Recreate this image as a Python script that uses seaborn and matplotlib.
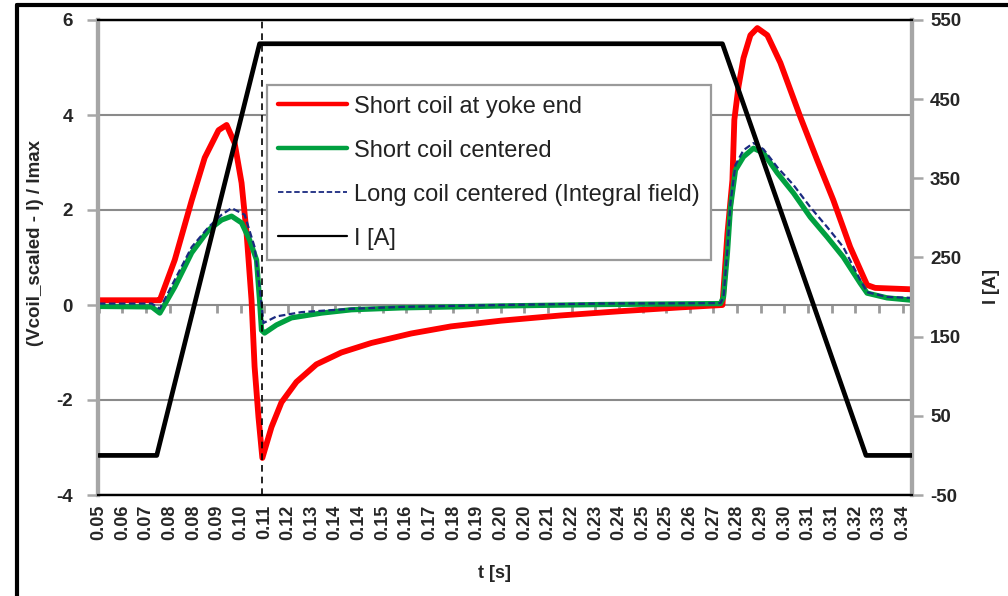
import numpy as np
import matplotlib
matplotlib.use("Agg")
import matplotlib.pyplot as plt
import seaborn as sns
from matplotlib.lines import Line2D

# ---------------- data ----------------
tick_labels = ["0.05", "0.06", "0.07", "0.08", "0.08", "0.09", "0.10", "0.11", "0.12", "0.13",
               "0.14", "0.14", "0.15", "0.16", "0.17", "0.18", "0.19", "0.20", "0.20", "0.21",
               "0.22", "0.23", "0.24", "0.25", "0.25", "0.26", "0.27", "0.28", "0.29", "0.30",
               "0.31", "0.31", "0.32", "0.33", "0.34"]
tick_first, tick_last = 0.05, 0.34

t_red = [0.0500, 0.0709, 0.0720, 0.0774, 0.0835, 0.0882, 0.0932, 0.0961, 0.0990, 0.1015,
         0.1033, 0.1051, 0.1062, 0.1076, 0.1090, 0.1123, 0.1159, 0.1213, 0.1285, 0.1375,
         0.1483, 0.1627, 0.1771, 0.1951, 0.2167, 0.2383, 0.2599, 0.2750, 0.2768, 0.2786,
         0.2793, 0.2808, 0.2826, 0.2851, 0.2876, 0.2912, 0.2959, 0.3031, 0.3092, 0.3150,
         0.3211, 0.3272, 0.3301, 0.3434]
v_red = [0.10, 0.10, 0.10, 0.95, 2.20, 3.10, 3.68, 3.79, 3.41, 2.57,
         1.52, 0.10, -1.30, -2.36, -3.22, -2.57, -2.05, -1.62, -1.25, -1.00,
         -0.80, -0.60, -0.45, -0.33, -0.22, -0.13, -0.05, 0.00, 1.50, 2.63,
         3.90, 4.60, 5.20, 5.68, 5.83, 5.68, 5.10, 3.96, 3.05, 2.21,
         1.22, 0.42, 0.36, 0.33]

t_green = [0.0500, 0.0691, 0.0720, 0.0774, 0.0835, 0.0896, 0.0943, 0.0979, 0.1015, 0.1044,
           0.1069, 0.1080, 0.1087, 0.1098, 0.1141, 0.1195, 0.1303, 0.1411, 0.1591, 0.1771,
           0.1951, 0.2311, 0.2743, 0.2754, 0.2768, 0.2779, 0.2797, 0.2826, 0.2862, 0.2898,
           0.2948, 0.3006, 0.3067, 0.3128, 0.3186, 0.3247, 0.3272, 0.3344, 0.3434]
v_green = [-0.03, -0.04, -0.17, 0.38, 1.10, 1.58, 1.79, 1.87, 1.73, 1.37,
           0.95, 0.10, -0.53, -0.59, -0.42, -0.27, -0.17, -0.10, -0.06, -0.04,
           -0.02, 0.01, 0.03, 0.17, 1.10, 2.06, 2.84, 3.12, 3.30, 3.20,
           2.78, 2.36, 1.85, 1.43, 1.01, 0.46, 0.25, 0.15, 0.10]

t_blue = [0.0500, 0.0691, 0.0720, 0.0774, 0.0835, 0.0896, 0.0943, 0.0979, 0.1026, 0.1062,
          0.1080, 0.1094, 0.1141, 0.1231, 0.1411, 0.1591, 0.1951, 0.2311, 0.2743, 0.2754,
          0.2768, 0.2779, 0.2797, 0.2826, 0.2862, 0.2898, 0.2948, 0.3006, 0.3067, 0.3128,
          0.3186, 0.3247, 0.3272, 0.3344, 0.3434]
v_blue = [0.03, 0.03, -0.08, 0.53, 1.22, 1.64, 1.90, 2.04, 1.90, 1.22,
          0.38, -0.38, -0.24, -0.15, -0.08, -0.04, 0.00, 0.03, 0.04, 0.17,
          1.16, 2.15, 2.95, 3.26, 3.41, 3.28, 2.90, 2.53, 2.06, 1.64,
          1.22, 0.53, 0.27, 0.17, 0.15]

t_current = [0.0500, 0.0709, 0.1080, 0.2750, 0.3268, 0.3434]
current = [0, 0, 520, 520, 0, 0]

t_switch = 0.109

left_ticks = [-4, -2, 0, 2, 4, 6]
right_ticks = [-50, 50, 150, 250, 350, 450, 550]

series_names = ["Short coil at yoke end", "Short coil centered",
                "Long coil centered (Integral field)", "I [A]"]

# ---------------- style ----------------
sns.set_theme(style="white")
plt.rcParams["font.family"] = ["Liberation Sans", "DejaVu Sans"]

fig = plt.figure(figsize=(10.08, 5.96), dpi=100)
ax = fig.add_axes([98 / 1008, 1 - 495 / 596, 814 / 1008, 475 / 596])
ax2 = ax.twinx()

grid_c = "#8a8a8a"
spine_gray = "#a6a6a6"

sns.lineplot(x=t_red, y=v_red, ax=ax, color="#ff0000", lw=4.2, sort=False,
             estimator=None, zorder=3)
sns.lineplot(x=t_green, y=v_green, ax=ax, color="#00a040", lw=3.8, sort=False,
             estimator=None, zorder=4)
sns.lineplot(x=t_blue, y=v_blue, ax=ax, color="#1a2a80", lw=1.6, sort=False,
             estimator=None, zorder=5, dashes=False, linestyle=(0, (3, 1.5)))
ax.axvline(t_switch, color="black", lw=1.2, ls=(0, (4, 3)), zorder=6)

sns.lineplot(x=t_current, y=current, ax=ax2, color="black", lw=3.4, sort=False,
             estimator=None, zorder=3)

# axes limits / ticks
ax.set_xlim(0.0497, 0.3434)
ax.set_ylim(-4, 6)
ax2.set_ylim(-50, 550)

ax.set_yticks(left_ticks)
ax.set_yticklabels([str(v) for v in left_ticks])
ax2.set_yticks(right_ticks)
ax2.set_yticklabels([str(v) for v in right_ticks])

tick_pos = np.linspace(tick_first, tick_last, len(tick_labels))
ax.set_xticks(tick_pos)
ax.set_xticklabels(tick_labels, rotation=90, fontweight="bold", fontsize=13)
ax.tick_params(axis="x", length=0, pad=7)

ax.tick_params(axis="y", length=8, width=1.8, color=spine_gray, pad=10,
               labelsize=13.5)
ax2.tick_params(axis="y", length=8, width=1.8, color=spine_gray, pad=5,
                labelsize=13.5)
for lab in ax.get_yticklabels() + ax2.get_yticklabels():
    lab.set_fontweight("bold")

# gridlines on left axis
ax.yaxis.grid(True, color=grid_c, lw=1.5)
ax.xaxis.grid(False)
ax2.grid(False)
ax.set_axisbelow(True)

# category tick marks along the zero line
sec = ax.secondary_xaxis(0.4)
sec.set_xticks(tick_pos)
sec.tick_params(axis="x", length=6, width=2, color="#9a9a9a", direction="out",
                labelbottom=False, labeltop=False)
sec.spines["bottom"].set_visible(False)
sec.spines["top"].set_visible(False)

# spines
for a in (ax, ax2):
    a.spines["top"].set_color("black")
    a.spines["top"].set_linewidth(1.6)
    a.spines["bottom"].set_color("black")
    a.spines["bottom"].set_linewidth(1.6)
    a.spines["left"].set_color(spine_gray)
    a.spines["left"].set_linewidth(3)
    a.spines["right"].set_color(spine_gray)
    a.spines["right"].set_linewidth(3)

# labels
ax.set_xlabel("t [s]", fontweight="bold", fontsize=13)
ax.xaxis.set_label_coords((495 - 98) / 814, -(565 - 495) / 475)
ax.set_ylabel("(Vcoil_scaled - I) / Imax", fontweight="bold", fontsize=13.5)
ax.yaxis.set_label_coords(-0.066, 0.53)
ax2.set_ylabel("I [A]", fontweight="bold", fontsize=13)
ax2.yaxis.set_label_coords(1.087, 0.44)

# legend
handles = [
    Line2D([], [], color="#ff0000", lw=3.2),
    Line2D([], [], color="#00a040", lw=3.2),
    Line2D([], [], color="#1a2a80", lw=1.3, ls=(0, (3, 1.5))),
    Line2D([], [], color="black", lw=1.6),
]
for a in (ax, ax2):
    if a.get_legend() is not None:
        a.get_legend().remove()
leg = ax2.legend(handles, series_names, loc="upper left",
                 bbox_to_anchor=(0.2076, 0.863), borderaxespad=0.0,
                 fontsize=17, handlelength=2.95, handletextpad=0.3,
                 labelspacing=0.93, borderpad=0.45, frameon=True,
                 fancybox=False, edgecolor="#9a9a9a", framealpha=1.0)
leg.get_frame().set_linewidth(1.6)
for txt in leg.get_texts():
    txt.set_color("#222222")
leg.set_zorder(20)

# outer frame of the picture
fig.add_artist(Line2D([17 / 1008, 1.0], [1 - 5 / 596, 1 - 5 / 596],
                      transform=fig.transFigure, color="black", lw=3))
fig.add_artist(Line2D([17 / 1008, 17 / 1008], [0.0, 1 - 5 / 596],
                      transform=fig.transFigure, color="black", lw=3))

fig.savefig("out.png", dpi=100, facecolor="white")
